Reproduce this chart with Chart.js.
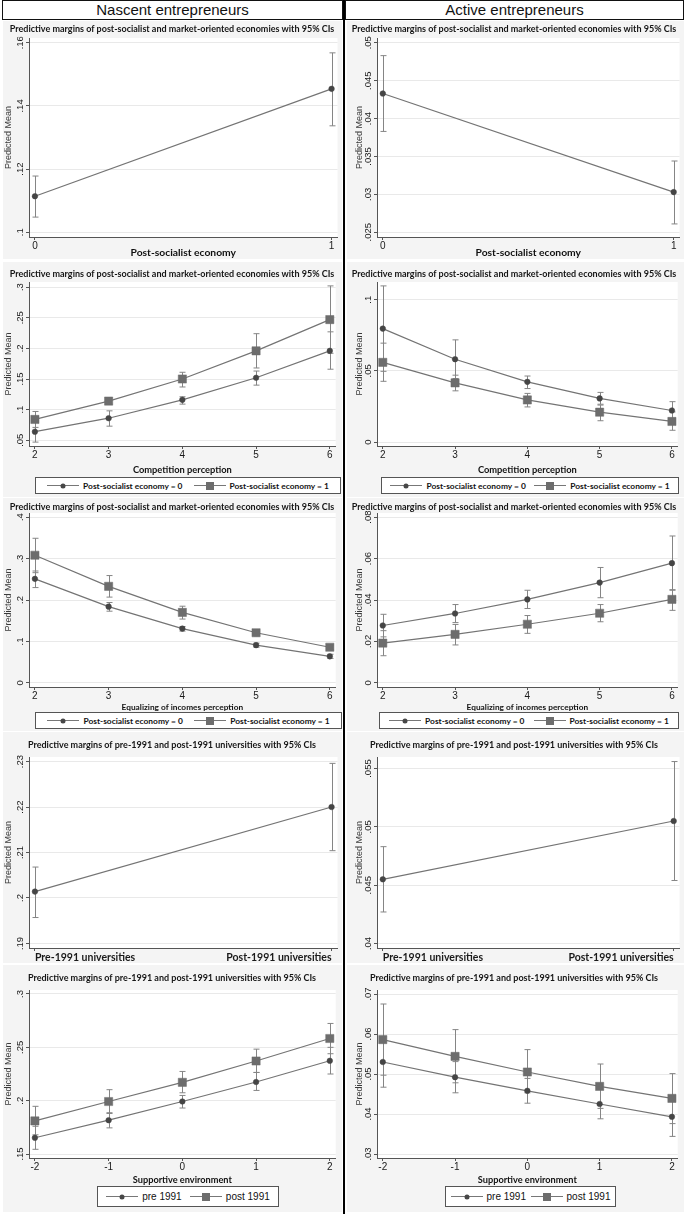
<!DOCTYPE html>
<html>
<head>
<meta charset="utf-8">
<title>Predictive margins</title>
<script src="https://cdn.jsdelivr.net/npm/chart.js@4.4.0/dist/chart.umd.min.js"></script>
<style>
  body { margin: 0; width: 685px; height: 1214px; position: relative; overflow: hidden; background: #fff;
         font-family: "Liberation Sans", Arial, sans-serif; }
  .head { position: absolute; top: 0; height: 18px; border: 1px solid #111; background: #fff;
          font-size: 15px; line-height: 18px; text-align: center; color: #111; }
  .divider { position: absolute; left: 343px; top: 0; width: 2px; height: 1214px; background: #000; }
  .panel { position: absolute; background: #f4f4f4; }
  .panel canvas { position: absolute; left: 0; top: 0; }
  .legend { position: absolute; box-sizing: border-box; border: 1px solid #555; background: #fff;
            display: flex; justify-content: space-evenly; align-items: center;
            font-family: Lato, sans-serif; font-weight: bold; font-size: 8.4px; color: #111; }
  .legend.plain { font-family: "Liberation Sans", Arial, sans-serif; font-weight: normal; font-size: 10px; }
  .key { display: inline-flex; align-items: center; white-space: nowrap; }
  .sym { position: relative; width: 32px; height: 1px; background: #777; margin-right: 4px; }
  .sym i { position: absolute; left: 50%; top: 50%; transform: translate(-50%, -50%); }
  .sym i.circle { width: 5px; height: 5px; border-radius: 50%; background: #474747; }
  .sym i.rect { width: 8px; height: 8px; background: #6d6d6d; }
</style>
</head>
<body>
<div class="head" style="left:2px;width:339px">Nascent entrepreneurs</div>
<div class="head" style="left:345px;width:337px">Active entrepreneurs</div>
<div class="divider"></div>

<script>
// values
const econX = [0, 1];
const levelX = [2, 3, 4, 5, 6];
const supportX = [-2, -1, 0, 1, 2];
const uniX = [0, 1];
const uniLabels = ['Pre-1991 universities', 'Post-1991 universities'];
const econLegend = ['Post-socialist economy = 0', 'Post-socialist economy = 1'];
const uniLegend = ['pre 1991', 'post 1991'];

const titleEcon = 'Predictive margins of post-socialist and market-oriented economies with 95% CIs';
const titleUni = 'Predictive margins of pre-1991 and post-1991 universities with 95% CIs';

// nascent - post-socialist economy
const nasEconMean = [0.1114, 0.1454];
const nasEconLo = [0.1048, 0.1337];
const nasEconHi = [0.1178, 0.1568];
const nasEconTicks = [0.10, 0.12, 0.14, 0.16];

// active - post-socialist economy
const actEconMean = [0.0433, 0.0303];
const actEconLo = [0.0383, 0.0261];
const actEconHi = [0.0483, 0.0344];
const actEconTicks = [0.025, 0.03, 0.035, 0.04, 0.045, 0.05];

// nascent - competition perception
const nasCompMean0 = [0.064, 0.086, 0.116, 0.152, 0.196];
const nasCompLo0 = [0.047, 0.073, 0.109, 0.140, 0.166];
const nasCompHi0 = [0.081, 0.098, 0.121, 0.163, 0.227];
const nasCompMean1 = [0.084, 0.114, 0.150, 0.196, 0.247];
const nasCompLo1 = [0.071, 0.109, 0.137, 0.168, 0.192];
const nasCompHi1 = [0.097, 0.119, 0.161, 0.224, 0.302];
const nasCompTicks = [0.05, 0.1, 0.15, 0.2, 0.25, 0.3];

// active - competition perception
const actCompMean0 = [0.0797, 0.0582, 0.0423, 0.0307, 0.0222];
const actCompLo0 = [0.0497, 0.0446, 0.0376, 0.0266, 0.0162];
const actCompHi0 = [0.1097, 0.0718, 0.0464, 0.0349, 0.0284];
const actCompMean1 = [0.056, 0.0416, 0.0296, 0.021, 0.0145];
const actCompLo1 = [0.0427, 0.036, 0.0247, 0.015, 0.0083];
const actCompHi1 = [0.0695, 0.047, 0.0342, 0.026, 0.0212];
const actCompTicks = [0, 0.05, 0.1];

// nascent - equalizing of incomes perception
const nasEqMean0 = [0.251, 0.184, 0.131, 0.091, 0.064];
const nasEqLo0 = [0.230, 0.173, 0.125, 0.086, 0.059];
const nasEqHi0 = [0.270, 0.194, 0.136, 0.096, 0.069];
const nasEqMean1 = [0.308, 0.233, 0.170, 0.121, 0.086];
const nasEqLo1 = [0.266, 0.207, 0.154, 0.113, 0.080];
const nasEqHi1 = [0.349, 0.259, 0.185, 0.128, 0.091];
const nasEqTicks = [0, 0.1, 0.2, 0.3, 0.4];

// active - equalizing of incomes perception
const actEqMean0 = [0.0277, 0.0335, 0.0403, 0.0484, 0.0578];
const actEqLo0 = [0.0222, 0.0291, 0.0359, 0.0411, 0.0447];
const actEqHi0 = [0.0331, 0.0378, 0.0447, 0.0557, 0.0709];
const actEqMean1 = [0.0192, 0.0234, 0.0283, 0.0336, 0.0403];
const actEqLo1 = [0.0131, 0.0183, 0.0239, 0.0295, 0.035];
const actEqHi1 = [0.0252, 0.0282, 0.0325, 0.0378, 0.045];
const actEqTicks = [0, 0.02, 0.04, 0.06, 0.08];

// nascent - universities
const nasUniMean = [0.2014, 0.2200];
const nasUniLo = [0.1957, 0.2104];
const nasUniHi = [0.2068, 0.2296];
const nasUniTicks = [0.19, 0.2, 0.21, 0.22, 0.23];

// active - universities
const actUniMean = [0.0455, 0.0505];
const actUniLo = [0.0427, 0.0454];
const actUniHi = [0.0483, 0.0556];
const actUniTicks = [0.04, 0.045, 0.05, 0.055];

// nascent - supportive environment
const nasSupMeanPre = [0.1652, 0.1817, 0.1992, 0.2175, 0.2374];
const nasSupLoPre = [0.1544, 0.1745, 0.1931, 0.2096, 0.225];
const nasSupHiPre = [0.176, 0.1887, 0.2049, 0.2264, 0.250];
const nasSupMeanPost = [0.181, 0.1992, 0.2172, 0.2372, 0.2583];
const nasSupLoPost = [0.168, 0.188, 0.2074, 0.2265, 0.244];
const nasSupHiPost = [0.1947, 0.2103, 0.2274, 0.2483, 0.2724];
const nasSupTicks = [0.15, 0.2, 0.25, 0.3];

// active - supportive environment
const actSupMeanPre = [0.053, 0.0492, 0.0458, 0.0425, 0.0393];
const actSupLoPre = [0.0467, 0.0453, 0.0427, 0.0388, 0.0344];
const actSupHiPre = [0.0593, 0.0531, 0.0489, 0.0462, 0.0442];
const actSupMeanPost = [0.0586, 0.0544, 0.0505, 0.0469, 0.0439];
const actSupLoPost = [0.0497, 0.0478, 0.0453, 0.0414, 0.0376];
const actSupHiPost = [0.0675, 0.0611, 0.0561, 0.0525, 0.0501];
const actSupTicks = [0.03, 0.04, 0.05, 0.06, 0.07];

// ---- layout ----
Chart.defaults.font.family = '"Liberation Sans", Arial, sans-serif';
Chart.defaults.color = '#222';
Chart.defaults.animation = false;

const cols = [
  { x: 3, w: 339, axis: 26, padRight: 1, yTitlePad: 0 },
  { x: 347, w: 337, axis: 30, padRight: 3, yTitlePad: 7 }
];
const rows = [
  { top: 21, h: 238, bg: 238, areaTop: 17, areaBottom: 216, titleTop: 3, xTitlePad: 0, xTitleSize: 10.3 },
  { top: 262, h: 214, bg: 235, areaTop: 20, areaBottom: 184, titleTop: 7, xTitlePad: 0, xTitleSize: 9.3 },
  { top: 498, h: 214, bg: 233, areaTop: 15, areaBottom: 189, titleTop: 4, xTitlePad: 0, xTitleSize: 8.3 },
  { top: 732, h: 231, bg: 231, areaTop: 25, areaBottom: 216, titleTop: 8 },
  { top: 965, h: 222, bg: 247, areaTop: 25, areaBottom: 193, titleTop: 8, xTitlePad: 1, xTitleSize: 9.2 }
];
const legendPos = {
  '1-0': { l: 35, t: 477, w: 306, h: 17 }, '1-1': { l: 381, t: 477, w: 298, h: 17 },
  '2-0': { l: 35, t: 712, w: 307, h: 17 }, '2-1': { l: 379, t: 712, w: 300, h: 17 },
  '4-0': { l: 97, t: 1186, w: 182, h: 21 }, '4-1': { l: 445, t: 1186, w: 171, h: 21 }
};

const panels = [
  { row: 0, col: 0, title: titleEcon, xTitle: 'Post-socialist economy', x: econX, yTicks: nasEconTicks,
    series: [{ mean: nasEconMean, lo: nasEconLo, hi: nasEconHi, marker: 'circle' }] },
  { row: 0, col: 1, title: titleEcon, xTitle: 'Post-socialist economy', x: econX, yTicks: actEconTicks,
    series: [{ mean: actEconMean, lo: actEconLo, hi: actEconHi, marker: 'circle' }] },
  { row: 1, col: 0, title: titleEcon, xTitle: 'Competition perception', x: levelX, yTicks: nasCompTicks, legend: econLegend,
    series: [{ mean: nasCompMean0, lo: nasCompLo0, hi: nasCompHi0, marker: 'circle' },
             { mean: nasCompMean1, lo: nasCompLo1, hi: nasCompHi1, marker: 'rect' }] },
  { row: 1, col: 1, title: titleEcon, xTitle: 'Competition perception', x: levelX, yTicks: actCompTicks, legend: econLegend,
    series: [{ mean: actCompMean0, lo: actCompLo0, hi: actCompHi0, marker: 'circle' },
             { mean: actCompMean1, lo: actCompLo1, hi: actCompHi1, marker: 'rect' }] },
  { row: 2, col: 0, title: titleEcon, xTitle: 'Equalizing of incomes perception', x: levelX, yTicks: nasEqTicks, legend: econLegend,
    series: [{ mean: nasEqMean0, lo: nasEqLo0, hi: nasEqHi0, marker: 'circle' },
             { mean: nasEqMean1, lo: nasEqLo1, hi: nasEqHi1, marker: 'rect' }] },
  { row: 2, col: 1, title: titleEcon, xTitle: 'Equalizing of incomes perception', x: levelX, yTicks: actEqTicks, legend: econLegend,
    series: [{ mean: actEqMean0, lo: actEqLo0, hi: actEqHi0, marker: 'circle' },
             { mean: actEqMean1, lo: actEqLo1, hi: actEqHi1, marker: 'rect' }] },
  { row: 3, col: 0, title: titleUni, x: uniX, xLabels: uniLabels, yTicks: nasUniTicks,
    series: [{ mean: nasUniMean, lo: nasUniLo, hi: nasUniHi, marker: 'circle' }] },
  { row: 3, col: 1, title: titleUni, x: uniX, xLabels: uniLabels, yTicks: actUniTicks,
    series: [{ mean: actUniMean, lo: actUniLo, hi: actUniHi, marker: 'circle' }] },
  { row: 4, col: 0, title: titleUni, xTitle: 'Supportive environment', x: supportX, yTicks: nasSupTicks, legend: uniLegend,
    series: [{ mean: nasSupMeanPre, lo: nasSupLoPre, hi: nasSupHiPre, marker: 'circle' },
             { mean: nasSupMeanPost, lo: nasSupLoPost, hi: nasSupHiPost, marker: 'rect' }] },
  { row: 4, col: 1, title: titleUni, xTitle: 'Supportive environment', x: supportX, yTicks: actSupTicks, legend: uniLegend,
    series: [{ mean: actSupMeanPre, lo: actSupLoPre, hi: actSupHiPre, marker: 'circle' },
             { mean: actSupMeanPost, lo: actSupLoPost, hi: actSupHiPost, marker: 'rect' }] }
];

// stata style numbers: .05 instead of 0.05
function fmt(v) {
  if (Math.abs(v) < 1e-9) return '0';
  return String(+v.toFixed(4)).replace(/^0\./, '.').replace(/^-0\./, '-.');
}

const mctx = document.createElement('canvas').getContext('2d');
function textW(s, font) { mctx.font = font; return mctx.measureText(s).width; }

// white plot region
const plotBg = {
  id: 'plotBg',
  beforeDraw(chart) {
    const a = chart.chartArea, ctx = chart.ctx;
    ctx.save();
    ctx.fillStyle = '#fff';
    ctx.fillRect(a.left, a.top, a.right - a.left, a.bottom - a.top);
    ctx.restore();
  }
};

// 95% CI caps, drawn through the chart scales
const ciBars = {
  id: 'ciBars',
  beforeDatasetsDraw(chart) {
    const { ctx, scales: { x, y } } = chart;
    ctx.save();
    ctx.strokeStyle = '#858585';
    ctx.lineWidth = 1;
    chart.data.datasets.forEach(ds => {
      ds.lo.forEach((lo, i) => {
        const px = Math.round(x.getPixelForValue(ds.data[i].x)) + 0.5;
        const a = y.getPixelForValue(lo), b = y.getPixelForValue(ds.hi[i]);
        ctx.beginPath();
        ctx.moveTo(px, a); ctx.lineTo(px, b);
        ctx.moveTo(px - 3, a); ctx.lineTo(px + 3, a);
        ctx.moveTo(px - 3, b); ctx.lineTo(px + 3, b);
        ctx.stroke();
      });
    });
    ctx.restore();
  }
};

panels.forEach(p => {
  const c = cols[p.col], r = rows[p.row];
  const box = document.createElement('div');
  box.className = 'panel';
  box.style.left = c.x + 'px';
  box.style.top = r.top + 'px';
  box.style.width = c.w + 'px';
  box.style.height = r.bg + 'px';
  const cv = document.createElement('canvas');
  cv.width = c.w; cv.height = r.h;
  cv.style.width = c.w + 'px'; cv.style.height = r.h + 'px';
  box.appendChild(cv);
  document.body.appendChild(box);

  const allLo = p.series.flatMap(s => s.lo).concat(p.yTicks);
  const allHi = p.series.flatMap(s => s.hi).concat(p.yTicks);
  const lo = Math.min(...allLo), hi = Math.max(...allHi);
  const yPadV = 0.025 * (hi - lo);
  const xr = p.x[p.x.length - 1] - p.x[0];

  const tickSize = 9.5;
  const widest = Math.max(...p.yTicks.map(v => textW(fmt(v), tickSize + 'px "Liberation Sans"')));
  const titleSize = 9;

  new Chart(cv, {
    type: 'line',
    data: {
      datasets: p.series.map(s => ({
        data: p.x.map((x, i) => ({ x: x, y: s.mean[i] })),
        lo: s.lo,
        hi: s.hi,
        borderColor: '#747474',
        borderWidth: 1.2,
        tension: 0,
        fill: false,
        pointStyle: s.marker,
        pointRadius: s.marker === 'rect' ? 5.8 : 2.8,
        pointBackgroundColor: s.marker === 'rect' ? '#6d6d6d' : '#454545',
        pointBorderColor: s.marker === 'rect' ? '#6d6d6d' : '#454545',
        pointBorderWidth: 0.5
      }))
    },
    options: {
      responsive: false,
      devicePixelRatio: 1,
      layout: { padding: { left: 0, right: c.padRight, top: 0, bottom: 0 } },
      plugins: {
        legend: { display: false },
        tooltip: { enabled: false },
        title: {
          display: true, text: p.title, color: '#151515',
          font: { family: 'Lato', weight: 'bold', size: titleSize, lineHeight: 1.2 },
          padding: { top: r.titleTop, bottom: r.areaTop - r.titleTop - titleSize * 1.2 }
        }
      },
      scales: {
        x: {
          type: 'linear', position: 'bottom', bounds: 'data',
          min: p.x[0] - 0.02 * xr, max: p.x[p.x.length - 1] + 0.02 * xr,
          afterBuildTicks: s => { s.ticks = p.x.map(v => ({ value: v })); },
          afterFit: s => { s.height = r.h - r.areaBottom; },
          ticks: {
            autoSkip: false, maxRotation: 0, padding: p.xLabels ? 0 : 0,
            align: p.xLabels ? 'inner' : 'center',
            color: '#1a1a1a',
            font: p.xLabels ? { family: 'Lato', weight: 'bold', size: 10.5 } : { size: 10 },
            callback: (v, i) => p.xLabels ? p.xLabels[i] : String(v)
          },
          grid: { drawOnChartArea: false, tickLength: 3, tickColor: '#555' },
          border: { color: '#555', width: 1 },
          title: p.xTitle ? {
            display: true, text: p.xTitle, color: '#111',
            font: { family: 'Lato', weight: 'bold', size: r.xTitleSize },
            padding: { top: 0, bottom: r.xTitlePad }
          } : { display: false }
        },
        y: {
          type: 'linear', bounds: 'data',
          min: lo - yPadV, max: hi + yPadV,
          afterBuildTicks: s => { s.ticks = p.yTicks.map(v => ({ value: v })); },
          afterFit: s => { s.width = c.axis; },
          ticks: {
            minRotation: 90, maxRotation: 90, crossAlign: 'center',
            padding: 6 - widest / 2,
            color: '#1a1a1a', font: { size: tickSize },
            callback: v => fmt(v)
          },
          grid: { color: '#e9e9e9', tickLength: 3, tickColor: '#555' },
          border: { color: '#555', width: 1 },
          title: {
            display: true, text: 'Predicted Mean', color: '#3a3a3a',
            font: { size: 9 }, padding: { top: c.yTitlePad, bottom: 0 }
          }
        }
      }
    },
    plugins: [plotBg, ciBars]
  });

  if (p.legend) {
    const pos = legendPos[p.row + '-' + p.col];
    const lg = document.createElement('div');
    lg.className = 'legend' + (p.row === 4 ? ' plain' : '');
    lg.style.left = pos.l + 'px';
    lg.style.top = pos.t + 'px';
    lg.style.width = pos.w + 'px';
    lg.style.height = pos.h + 'px';
    p.series.forEach((s, i) => {
      const k = document.createElement('span');
      k.className = 'key';
      const sym = document.createElement('span');
      sym.className = 'sym';
      const m = document.createElement('i');
      m.className = s.marker;
      sym.appendChild(m);
      k.appendChild(sym);
      k.appendChild(document.createTextNode(p.legend[i]));
      lg.appendChild(k);
    });
    document.body.appendChild(lg);
  }
});
</script>
</body>
</html>
